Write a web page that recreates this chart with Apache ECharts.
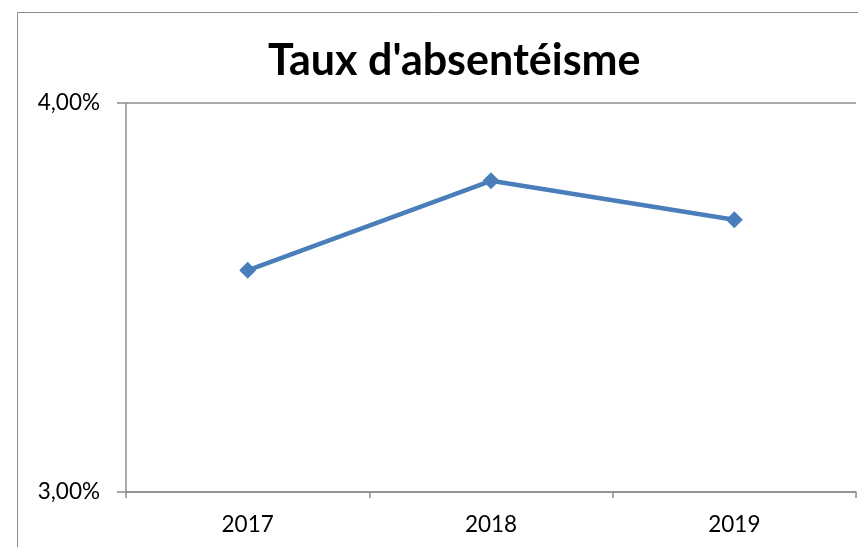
<!DOCTYPE html>
<html>
<head>
<meta charset="utf-8">
<script src="https://cdn.jsdelivr.net/npm/echarts@6/dist/echarts.min.js"></script>
<style>
  html, body { margin: 0; padding: 0; background: #fff; }
  #chart { width: 858px; height: 547px; }
</style>
</head>
<body>
<div id="chart"></div>
<script>
// données
const years = ['2017', '2018', '2019'];
const tauxAbsenteisme = [3.57, 3.80, 3.70]; // en %
const yMin = 3, yMax = 4;

const chart = echarts.init(document.getElementById('chart'));

const option = {
    animation: false,
    backgroundColor: '#fff',
    title: {
        text: "Taux d'absentéisme",
        left: 263,
        top: 35,
        textStyle: {
            fontFamily: 'Lato',
            fontWeight: 'bold',
            fontSize: 43,
            color: '#000'
        }
    },
    // cadre extérieur
    graphic: [{
        type: 'rect',
        shape: { x: 17.5, y: 12.5, width: 900, height: 600 },
        style: { fill: 'none', stroke: '#8c8c8c', lineWidth: 1 },
        silent: true
    }],
    grid: { left: 126, top: 103, right: 2, bottom: 55 },
    xAxis: {
        type: 'category',
        data: years,
        boundaryGap: true,
        axisLine: { lineStyle: { color: '#8c8c8c', width: 1.5 } },
        axisTick: { show: true, length: 6, lineStyle: { color: '#8c8c8c', width: 1.5 } },
        axisLabel: { color: '#000', fontFamily: 'Lato', fontSize: 22.5, margin: 21 }
    },
    yAxis: {
        type: 'value',
        min: yMin,
        max: yMax,
        interval: 1,
        axisLine: { show: true, lineStyle: { color: '#8c8c8c', width: 1.5 } },
        axisTick: { show: true, length: 9, lineStyle: { color: '#8c8c8c', width: 1.5 } },
        splitLine: { show: true, lineStyle: { color: '#8c8c8c', width: 1.5 } },
        axisLabel: {
            color: '#000',
            fontFamily: 'Lato',
            fontSize: 22.5,
            margin: 26,
            formatter: v => v.toFixed(2).replace('.', ',') + '%'
        }
    },
    series: [{
        type: 'line',
        data: tauxAbsenteisme,
        symbol: 'diamond',
        symbolSize: 17,
        lineStyle: { color: '#4a7ebb', width: 4.5 },
        itemStyle: { color: '#4a7ebb' }
    }]
};

chart.setOption(option);
</script>
</body>
</html>
